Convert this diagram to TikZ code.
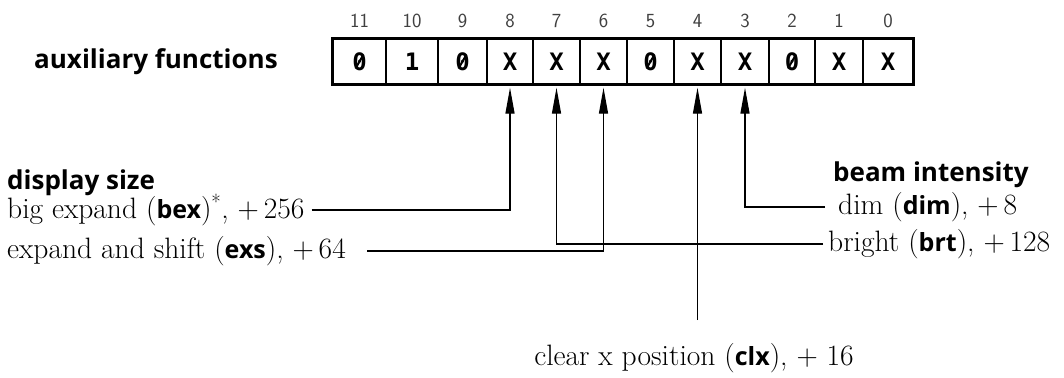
\documentclass[tikz,border=0pt]{standalone}
\usepackage{fontspec}
\newfontfamily\hsans{Open Sans}
\newfontfamily\monob{DejaVu Sans Mono}
\usetikzlibrary{arrows.meta}
\newcommand\kw[1]{{\hsans\bfseries\fontsize{25}{29}\selectfont #1}}
\begin{document}
\begin{tikzpicture}[x=1pt,y=-1pt,
  cell/.style={draw, line width=1.4pt, minimum height=45pt, inner sep=0pt,
    font=\monob\bfseries\fontsize{24}{24}\selectfont},
  slash/.style={line width=2pt},
  bitnum/.style={font=\sffamily\fontsize{20}{20}\selectfont, text=black!75, inner sep=0pt},
  head/.style={font=\hsans\bfseries\fontsize{26}{30}\selectfont, inner sep=3pt},
  txt/.style={font=\fontsize{29.5}{34}\selectfont, inner sep=3pt},
  conn/.style={line width=1.3pt, -{Triangle[length=26pt,width=9pt]}, shorten >=3pt}]
\fill[white] (0,0) rectangle (1064,377);
\useasboundingbox (0,0) rectangle (1064,377);
% register cells
\foreach \n/\cx/\w/\v in {11/359.5/53/0, 10/412/52/1, 9/462.5/49/0, 8/510/46/X,
    7/556.5/47/X, 6/603.5/47/X, 5/650.5/47/0, 4/697.5/47/X, 3/745/48/X,
    2/792/46/0, 1/839/48/X, 0/888/50/X} {
  \node[cell, minimum width=\w pt] (c\n) at (\cx,61.5) {\v};
  \node[bitnum] (n\n) at (\cx,21) {\n};
}
% slashed zeros
\foreach \n in {11,9,5,2} {
  \draw[slash] ([xshift=-4pt,yshift=-7pt]c\n.center) -- ([xshift=4pt,yshift=7pt]c\n.center);
}
\draw[line width=2.4pt] (c11.north west) rectangle (c0.south east);
% labels
\node[head, anchor=west] (aux) at (31,61.5) {auxiliary functions};
\node[head, anchor=west] (disp) at (4,183) {display size};
\node[txt, anchor=west] (bex) at (4,210) {big expand (\kw{bex})\textsuperscript{*}, +\,256};
\node[txt, anchor=west] (exs) at (4,251) {expand and shift (\kw{exs}), +\,64};
\node[head, anchor=west] (beam) at (830,175) {beam intensity};
\node[txt, anchor=west] (dim) at (835,207) {dim (\kw{dim}), +\,8};
\node[txt, anchor=west] (brt) at (825,244) {bright (\kw{brt}), +\,128};
\node[txt] (clx) at (694,358) {clear x position (\kw{clx}), + 16};
% connectors
\draw[conn, shorten <=4pt] (bex.east) -| (c8.south);
\draw[conn, shorten <=18pt] (exs.east) -| (c6.south);
\draw[conn, shorten <=10pt] (dim.west) -| (c3.south);
\draw[conn, shorten <=2pt] (brt.west) -| (c7.south);
\draw[conn, shorten <=20pt] (clx.north -| c4.south) -- (c4.south);
\end{tikzpicture}
\end{document}
